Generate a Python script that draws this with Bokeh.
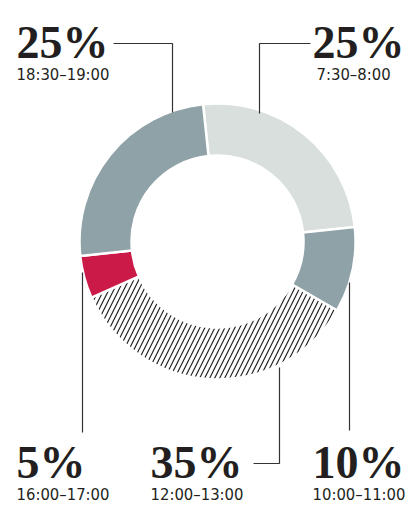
import numpy as np
from bokeh.plotting import figure
from bokeh.models import Range1d, ColumnDataSource
from bokeh.core.properties import value
from bokeh.embed import file_html
from bokeh.resources import INLINE

# data
shares = [25, 10, 35, 5, 25]
times = ["7:30–8:00", "10:00–11:00", "12:00–13:00", "16:00–17:00", "18:30–19:00"]
pct_labels = ["25%", "10%", "35%", "5%", "25%"]
colors = ["#d8dfdc", "#8ea2a8", "#ffffff", "#cc1a48", "#8ea2a8"]
hatches = [" ", " ", "/", " ", " "]

W, H = 407, 505
p = figure(width=W, height=H, output_backend="svg", toolbar_location=None,
           x_range=Range1d(0, W), y_range=Range1d(0, H), min_border=0)
p.axis.visible = False
p.grid.visible = False
p.outline_line_color = None
p.background_fill_color = "white"
p.border_fill_color = "white"

cx, cy = 217, 264
r_in, r_out = 86, 138
start_deg = 96
cum = np.cumsum([0] + shares)
ends = np.radians(start_deg - cum[:-1] * 3.6)
starts = np.radians(start_deg - cum[1:] * 3.6)
src = ColumnDataSource(dict(start=starts, end=ends, color=colors, hatch=hatches))
p.annular_wedge(x=cx, y=cy, inner_radius=r_in, outer_radius=r_out,
                start_angle="start", end_angle="end", source=src,
                fill_color="color", line_color="white", line_width=2.5,
                hatch_pattern="hatch", hatch_color="#222222", hatch_weight=1.2,
                hatch_scale=10)

ink = "#231f20"
# label layout: (big x, sub x, big centre y, sub centre y)
pos = [(312, 316, 463, 431), (312, 312, 43, 11), (150, 150, 43, 11),
       (16, 16, 43, 11), (16, 16, 463, 431)]
for (xb, xs, yb, ys), pl, t in zip(pos, pct_labels, times):
    p.text(x=[xb], y=[yb], text=[pl], text_font=value("Liberation Serif"),
           text_font_style="bold", text_font_size="46px", text_color=ink,
           text_baseline="middle", text_align="left")
    p.text(x=[xs], y=[ys], text=[t], text_font=value("DejaVu Sans Condensed, Roboto"),
           text_font_size="16.5px", text_color=ink,
           text_baseline="middle", text_align="left")

leaders = [
    ([310, 259, 259], [462, 462, 392]),
    ([349, 349], [223, 75]),
    ([279, 279, 253], [138, 42, 42]),
    ([82, 82], [233, 73]),
    ([113, 172, 172], [462, 462, 393]),
]
for xs_, ys_ in leaders:
    p.line(xs_, ys_, line_color="#333333", line_width=1.2)

open("out.html", "w").write(file_html(p, INLINE))
